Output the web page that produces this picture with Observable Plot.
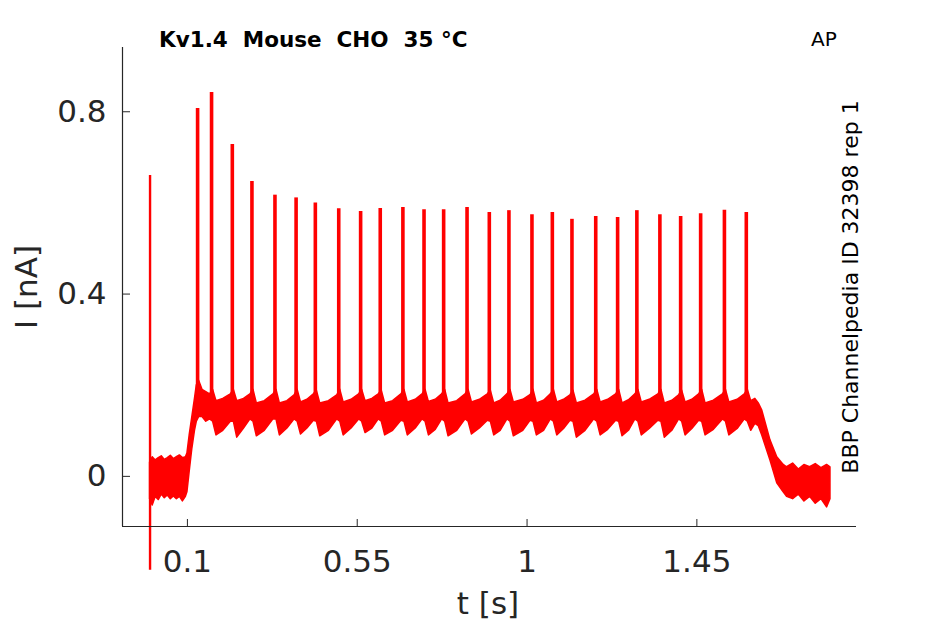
<!DOCTYPE html>
<html>
<head>
<meta charset="utf-8">
<script src="https://cdn.jsdelivr.net/npm/d3@7"></script>
<script src="https://cdn.jsdelivr.net/npm/@observablehq/plot@0.6"></script>
<style>
  html, body { margin: 0; padding: 0; background: #fff; }
  #chart { width: 945px; height: 624px; }
</style>
</head>
<body>
<div id="chart"></div>
<script>
// ---- Data ----
const titleText = "Kv1.4  Mouse  CHO  35 °C";
const protocolText = "AP";
const sourceText = "BBP Channelpedia ID 32398 rep 1";
const xLabel = "t [s]";
const yLabel = "I [nA]";

const xTicks = [0.1, 0.55, 1, 1.45];
const xTickLabels = ["0.1", "0.55", "1", "1.45"];
const yTicks = [0, 0.4, 0.8];
const yTickLabels = ["0", "0.4", "0.8"];
const xDomain = [-0.072, 1.873];
const yDomain = [-0.11, 0.941];

// spike times (s) and peak currents (nA)
const spikeT = [0.127, 0.164, 0.219, 0.271, 0.332, 0.388, 0.439, 0.501, 0.559, 0.611,
  0.671, 0.727, 0.779, 0.841, 0.900, 0.952, 1.013, 1.067, 1.119, 1.182,
  1.240, 1.291, 1.352, 1.407, 1.460, 1.523, 1.581];
const spikePeak = [0.807, 0.842, 0.728, 0.647, 0.617, 0.611, 0.600, 0.587, 0.581, 0.588,
  0.590, 0.585, 0.585, 0.590, 0.579, 0.583, 0.574, 0.579, 0.564, 0.570,
  0.568, 0.583, 0.574, 0.570, 0.576, 0.584, 0.579];
const spikeBase = 0.16;

// capacitive transient at stimulus onset
const transientT = [0.001];
const transientLo = [-0.206];
const transientHi = [0.66];

// noise envelope of the overlaid sweeps: time, upper edge, lower edge
const envT = [
  0.001, 0.008, 0.016, 0.024, 0.032, 0.040, 0.048, 0.056, 0.064, 0.072, 0.080, 0.088, 0.096, 0.100,
  0.106, 0.113, 0.120, 0.125,
  0.131, 0.140, 0.150, 0.160,
  0.168, 0.177, 0.195, 0.215,
  0.223, 0.232, 0.250, 0.267,
  0.275, 0.284, 0.305, 0.328,
  0.336, 0.345, 0.365, 0.384,
  0.392, 0.401, 0.418, 0.435,
  0.443, 0.452, 0.475, 0.497,
  0.505, 0.514, 0.535, 0.555,
  0.563, 0.572, 0.590, 0.607,
  0.615, 0.624, 0.645, 0.667,
  0.675, 0.684, 0.705, 0.723,
  0.731, 0.740, 0.758, 0.775,
  0.783, 0.792, 0.815, 0.837,
  0.845, 0.854, 0.875, 0.896,
  0.904, 0.913, 0.930, 0.948,
  0.956, 0.965, 0.990, 1.009,
  1.017, 1.026, 1.045, 1.063,
  1.071, 1.080, 1.098, 1.115,
  1.123, 1.132, 1.155, 1.178,
  1.186, 1.195, 1.215, 1.236,
  1.244, 1.253, 1.270, 1.287,
  1.295, 1.304, 1.325, 1.348,
  1.356, 1.365, 1.385, 1.403,
  1.411, 1.420, 1.438, 1.456,
  1.464, 1.473, 1.495, 1.519,
  1.527, 1.536, 1.558, 1.577,
  1.585, 1.594, 1.605, 1.614,
  1.623, 1.645, 1.663, 1.680, 1.689, 1.705, 1.720, 1.735, 1.750, 1.765, 1.780, 1.795, 1.804
];
const envHi = [
  0.030, 0.042, 0.035, 0.040, 0.044, 0.036, 0.040, 0.045, 0.038, 0.042, 0.046, 0.040, 0.042, 0.050,
  0.090, 0.130, 0.170, 0.200,
  0.210, 0.190, 0.185, 0.180,
  0.190, 0.165, 0.170, 0.180,
  0.190, 0.165, 0.170, 0.180,
  0.190, 0.160, 0.165, 0.180,
  0.190, 0.160, 0.165, 0.178,
  0.190, 0.162, 0.168, 0.180,
  0.188, 0.160, 0.165, 0.178,
  0.190, 0.162, 0.168, 0.180,
  0.190, 0.165, 0.170, 0.180,
  0.188, 0.160, 0.165, 0.180,
  0.190, 0.162, 0.168, 0.180,
  0.190, 0.163, 0.168, 0.180,
  0.190, 0.160, 0.165, 0.180,
  0.190, 0.162, 0.168, 0.180,
  0.188, 0.160, 0.166, 0.180,
  0.190, 0.162, 0.168, 0.178,
  0.190, 0.160, 0.166, 0.180,
  0.190, 0.162, 0.168, 0.178,
  0.188, 0.160, 0.166, 0.180,
  0.190, 0.162, 0.168, 0.180,
  0.190, 0.160, 0.167, 0.180,
  0.190, 0.162, 0.168, 0.180,
  0.190, 0.160, 0.166, 0.178,
  0.188, 0.162, 0.168, 0.180,
  0.190, 0.160, 0.166, 0.180,
  0.190, 0.162, 0.168, 0.180,
  0.190, 0.165, 0.170, 0.160,
  0.145, 0.079, 0.042, 0.025, 0.020, 0.028, 0.015, 0.025, 0.020, 0.027, 0.018, 0.025, 0.020
];
const envLo = [
  -0.050, -0.064, -0.045, -0.052, -0.040, -0.048, -0.042, -0.050, -0.044, -0.050, -0.045, -0.055, -0.045, -0.035,
  0.010, 0.060, 0.100, 0.120,
  0.130, 0.130, 0.120, 0.125,
  0.120, 0.090, 0.100, 0.120,
  0.120, 0.085, 0.105, 0.125,
  0.120, 0.088, 0.100, 0.125,
  0.125, 0.090, 0.105, 0.125,
  0.120, 0.092, 0.105, 0.122,
  0.120, 0.088, 0.100, 0.125,
  0.120, 0.090, 0.105, 0.125,
  0.120, 0.095, 0.105, 0.125,
  0.120, 0.090, 0.100, 0.122,
  0.120, 0.090, 0.105, 0.125,
  0.120, 0.090, 0.102, 0.125,
  0.120, 0.088, 0.100, 0.125,
  0.120, 0.092, 0.105, 0.122,
  0.120, 0.090, 0.100, 0.125,
  0.120, 0.088, 0.100, 0.122,
  0.120, 0.090, 0.100, 0.125,
  0.120, 0.090, 0.104, 0.122,
  0.120, 0.085, 0.100, 0.125,
  0.120, 0.090, 0.102, 0.122,
  0.120, 0.088, 0.100, 0.125,
  0.120, 0.090, 0.104, 0.122,
  0.120, 0.085, 0.100, 0.125,
  0.120, 0.090, 0.104, 0.122,
  0.120, 0.090, 0.102, 0.125,
  0.120, 0.090, 0.104, 0.125,
  0.120, 0.100, 0.115, 0.110,
  0.090, 0.035, -0.015, -0.035, -0.045, -0.050, -0.040, -0.055, -0.045, -0.060, -0.050, -0.068, -0.050
];

// ---- Build tables for the library ----
const envelope = envT.map((t, i) => ({t, hi: envHi[i], lo: envLo[i]}));
const spikes = spikeT.map((t, i) => ({t, peak: spikePeak[i]}));
const transient = transientT.map((t, i) => ({t, lo: transientLo[i], hi: transientHi[i]}));
const xFmt = new Map(xTicks.map((t, i) => [t, xTickLabels[i]]));
const yFmt = new Map(yTicks.map((t, i) => [t, yTickLabels[i]]));

const axisColor = "#262626";
const traceColor = "#ff0000";

const plot = Plot.plot({
  width: 945,
  height: 624,
  marginLeft: 122,
  marginRight: 89,
  marginTop: 47,
  marginBottom: 98,
  style: {fontFamily: "DejaVu Sans", fontSize: "31px", color: axisColor, background: "#fff", overflow: "visible"},
  x: {domain: xDomain},
  y: {domain: yDomain},
  marks: [
    Plot.areaY(envelope, {x: "t", y1: "lo", y2: "hi", fill: traceColor, stroke: traceColor, strokeWidth: 1.5, curve: "linear"}),
    Plot.ruleX(spikes, {x: "t", y1: spikeBase, y2: "peak", stroke: traceColor, strokeWidth: 3.6}),
    Plot.ruleX(transient, {x: "t", y1: "lo", y2: "hi", stroke: traceColor, strokeWidth: 2.4}),
    Plot.ruleY([yDomain[0]], {stroke: axisColor, strokeWidth: 1.2}),
    Plot.ruleX([xDomain[0]], {stroke: axisColor, strokeWidth: 1.2}),
    Plot.axisX(xTicks, {anchor: "bottom", tickSize: -7, tickPadding: 30, stroke: axisColor, fill: axisColor,
      tickFormat: d => xFmt.get(d), label: null, fontSize: 31}),
    Plot.axisY(yTicks, {anchor: "left", tickSize: -8, tickPadding: 24, stroke: axisColor, fill: axisColor,
      tickFormat: d => yFmt.get(d), label: null, fontSize: 31})
  ]
});

document.getElementById("chart").appendChild(plot);

const svg = d3.select(plot);
svg.append("text")
  .attr("x", 159).attr("y", 47)
  .attr("text-anchor", "start")
  .attr("font-family", "DejaVu Sans").attr("font-weight", "bold").attr("font-size", 21.5)
  .attr("fill", "#000").style("white-space", "pre").attr("xml:space", "preserve")
  .text(titleText);
svg.append("text")
  .attr("x", 811).attr("y", 46)
  .attr("text-anchor", "start")
  .attr("font-family", "DejaVu Sans").attr("font-size", 20)
  .attr("fill", "#000")
  .text(protocolText);
svg.append("text")
  .attr("transform", "translate(858,287) rotate(-90)")
  .attr("text-anchor", "middle")
  .attr("font-family", "DejaVu Sans").attr("font-size", 22)
  .attr("fill", "#000")
  .text(sourceText);
svg.append("text")
  .attr("x", 488).attr("y", 614)
  .attr("text-anchor", "middle")
  .attr("font-family", "DejaVu Sans").attr("font-size", 31)
  .attr("fill", axisColor)
  .text(xLabel);
svg.append("text")
  .attr("transform", "translate(37,287) rotate(-90)")
  .attr("text-anchor", "middle")
  .attr("font-family", "DejaVu Sans").attr("font-size", 31)
  .attr("fill", axisColor)
  .text(yLabel);
</script>
</body>
</html>
